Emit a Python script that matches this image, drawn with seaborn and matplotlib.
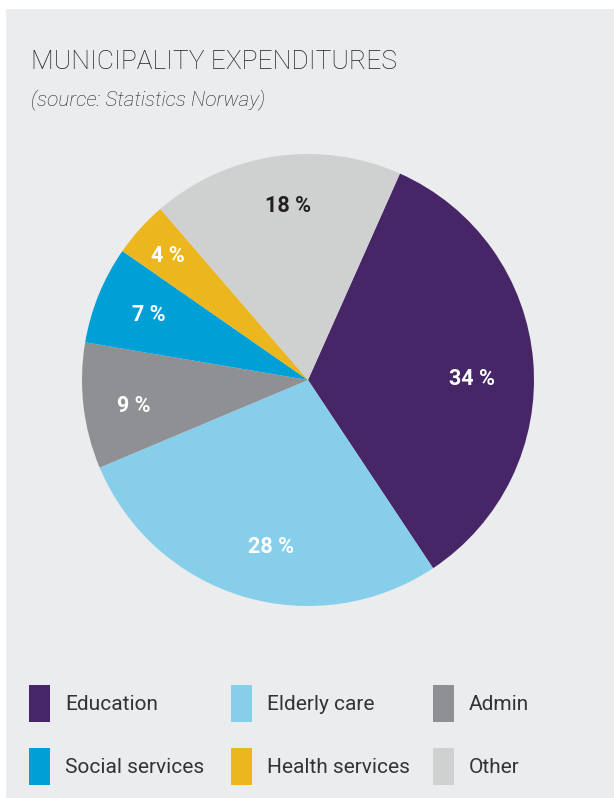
import matplotlib.pyplot as plt
import matplotlib.patches as mpatches
import seaborn as sns

categories = ["Education", "Elderly care", "Admin", "Social services", "Health services", "Other"]
shares = [34, 28, 9, 7, 4, 18]
colors = ["#472667", "#87ceeb", "#8f9093", "#009fd6", "#ecb71e", "#cfd0d0"]
label_colors = ["white", "white", "white", "white", "white", "#231f20"]
# small hand nudges of the percent labels (pixels: right, down)
label_nudge = [(-7, 13), (13, 3), (-4, 6), (0, 0), (-13, -9), (5, -4)]

title = "MUNICIPALITY EXPENDITURES"
subtitle = "(source: Statistics Norway)"

BG = "#ebecee"
RADIUS_PX = 226

sns.set_theme(style="white")
plt.rcParams["font.family"] = ["Roboto", "DejaVu Sans"]

fig = plt.figure(figsize=(6.14, 7.98), dpi=100)
fig.patch.set_facecolor("white")
# grey panel behind everything
fig.patches.append(mpatches.Rectangle((6 / 614, 0), 1, 1 - 9 / 798, transform=fig.transFigure,
                                      facecolor=BG, edgecolor="none", zorder=-1))

ax = fig.add_axes([82 / 614, 192 / 798, 452 / 614, 452 / 798])
ax.set_facecolor("none")
wedges, texts, autotexts = ax.pie(
    shares, colors=colors, startangle=66, counterclock=False,
    autopct=lambda p: f"{p:.0f} %", pctdistance=0.76,
    wedgeprops=dict(linewidth=0),
    textprops=dict(fontsize=15.5, fontweight="bold"),
)
for t, c, (dx, dy) in zip(autotexts, label_colors, label_nudge):
    t.set_color(c)
    x, y = t.get_position()
    t.set_position((x + dx / RADIUS_PX, y - dy / RADIUS_PX))
ax.set_xlim(-1, 1)
ax.set_ylim(-1, 1)
ax.set_aspect("equal")
ax.axis("off")

fig.text(31 / 614, 1 - 62 / 798, title, fontsize=19, fontweight="light",
         color="#231f20", va="center", ha="left")
fig.text(31 / 614, 1 - 100 / 798, subtitle, fontsize=15, fontstyle="italic", fontweight="light",
         color="#231f20", va="center", ha="left")

# legend: three columns of two rows
col_x = [29 / 614, 231 / 614, 433 / 614]
for i, x in enumerate(col_x):
    idx = [i, i + 3]
    handles = [mpatches.Patch(facecolor=colors[j], edgecolor="none", label=categories[j]) for j in idx]
    fig.legend(handles=handles, loc="upper left", bbox_to_anchor=(x, 1 - 685 / 798),
               frameon=False, fontsize=15, handlelength=1.0, handleheight=2.36,
               handletextpad=0.72, labelspacing=1.25, borderaxespad=0, borderpad=0,
               labelcolor="#333333")

fig.savefig("out.png", dpi=100, facecolor=fig.get_facecolor())
